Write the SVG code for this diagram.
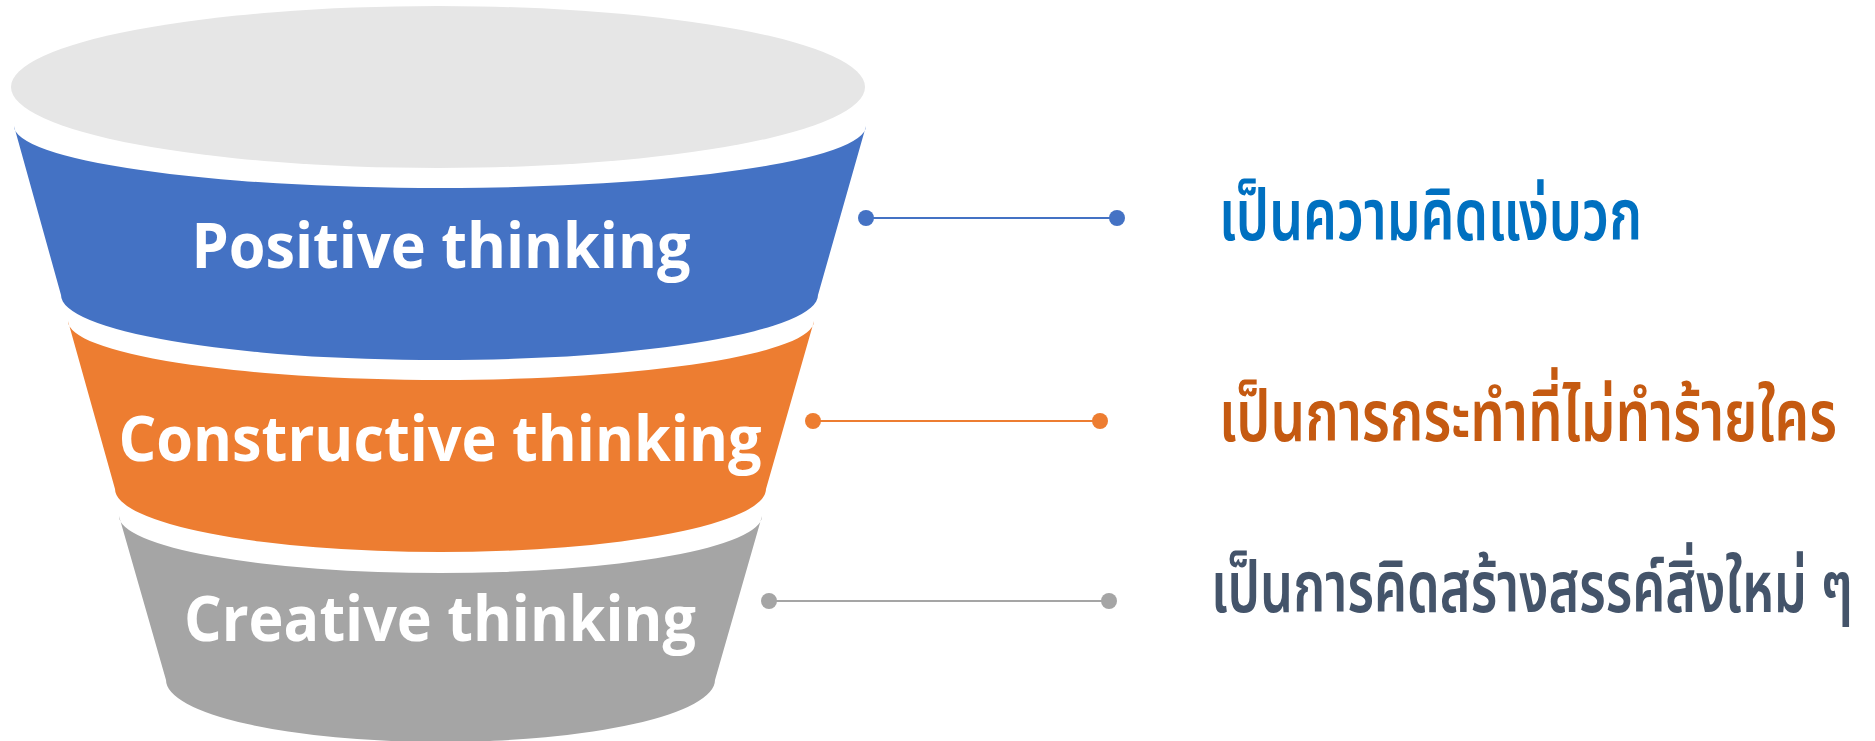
<svg xmlns="http://www.w3.org/2000/svg" width="1875" height="741" viewBox="0 0 1875 741">
  <style>
    .band-label { font-family: "Open Sans", "Noto Sans", "Liberation Sans", sans-serif; font-weight: 700; font-size: 62px; fill: #FFFFFF; }
    .thai { font-family: "Noto Sans Thai", "Noto Sans", "DejaVu Sans", sans-serif; font-size: 48px; font-weight: 600; }
  </style>
  <rect width="1875" height="741" fill="#FFFFFF"/>
  <g id="funnel-top">
    <ellipse cx="438" cy="87" rx="427" ry="81" fill="#E6E6E6"/>
  </g>
  <g id="node-positive">
    <path d="M14,126 A426,62 0 0 0 866,126 L818,295 A378,65 0 0 1 61,295 Z" fill="#4472C4"/>
    <text class="band-label" x="441" y="268" text-anchor="middle" textLength="499" lengthAdjust="spacingAndGlyphs">Positive thinking</text>
  </g>
  <g id="node-constructive">
    <path d="M68,321 A373,59 0 0 0 814,321 L766,489 A325.5,63 0 0 1 115,489 Z" fill="#ED7D31"/>
    <text class="band-label" x="440" y="461" text-anchor="middle" textLength="643" lengthAdjust="spacingAndGlyphs">Constructive thinking</text>
  </g>
  <g id="node-creative">
    <path d="M119,516 A321.5,57 0 0 0 762,516 L715,680 A274.5,62 0 0 1 166,680 Z" fill="#A5A5A5"/>
    <text class="band-label" x="440" y="641" text-anchor="middle" textLength="512" lengthAdjust="spacingAndGlyphs">Creative thinking</text>
  </g>
  <g id="connectors">
    <line x1="866" y1="218" x2="1117" y2="218" stroke="#4472C4" stroke-width="2"/>
    <circle cx="866" cy="218" r="8" fill="#4472C4"/>
    <circle cx="1117" cy="218" r="8" fill="#4472C4"/>
    <line x1="813" y1="421" x2="1100" y2="421" stroke="#ED7D31" stroke-width="2"/>
    <circle cx="813" cy="421" r="8" fill="#ED7D31"/>
    <circle cx="1100" cy="421" r="8" fill="#ED7D31"/>
    <line x1="769" y1="601" x2="1109" y2="601" stroke="#A5A5A5" stroke-width="2"/>
    <circle cx="769" cy="601" r="8" fill="#A5A5A5"/>
    <circle cx="1109" cy="601" r="8" fill="#A5A5A5"/>
  </g>
  <g id="desc-positive" transform="translate(1219,240) scale(1,1.5)">
    <text class="thai" x="0" y="0" fill="#0070C0" textLength="423" lengthAdjust="spacingAndGlyphs">เป็นความคิดแง่บวก</text>
  </g>
  <g id="desc-constructive" transform="translate(1219,441) scale(1,1.5)">
    <text class="thai" x="0" y="0" fill="#C55A11" textLength="618" lengthAdjust="spacingAndGlyphs">เป็นการกระทำที่ไม่ทำร้ายใคร</text>
  </g>
  <g id="desc-creative" transform="translate(1211,612) scale(1,1.5)">
    <text class="thai" x="0" y="0" fill="#44546A" textLength="642" lengthAdjust="spacingAndGlyphs">เป็นการคิดสร้างสรรค์สิ่งใหม่ ๆ</text>
  </g>
</svg>
